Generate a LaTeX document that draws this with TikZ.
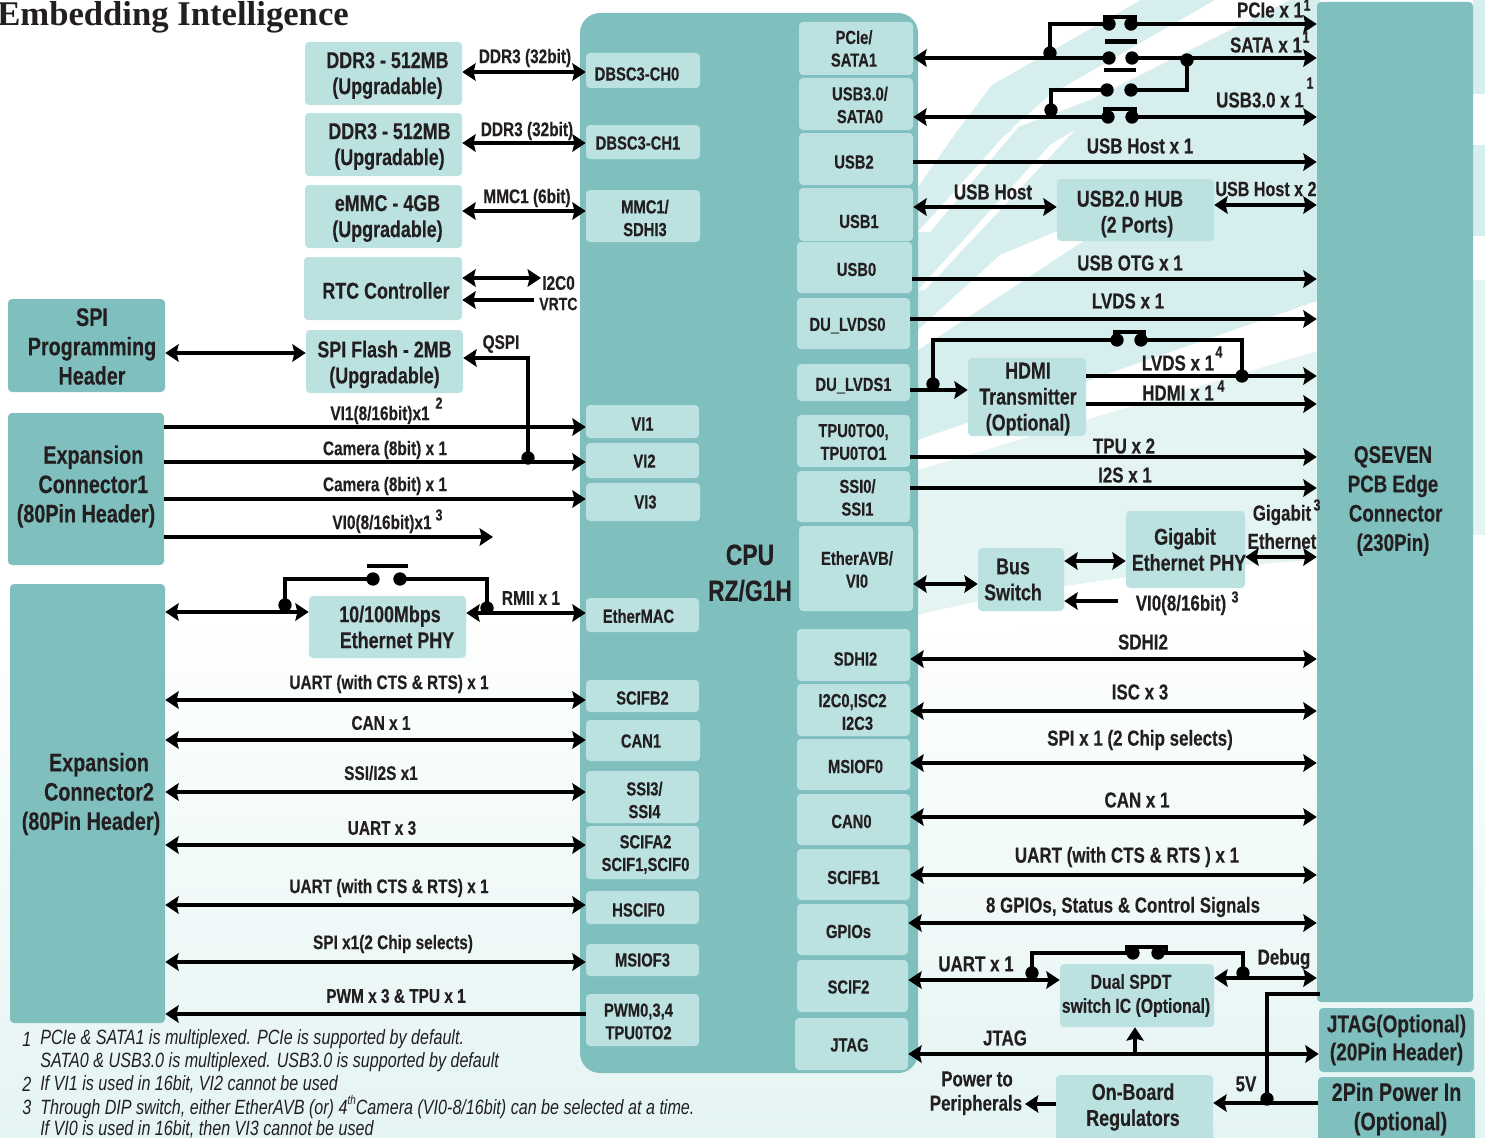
\documentclass[tikz,border=0pt]{standalone}
\usepackage{fontspec}
\setmainfont{Liberation Sans}[FakeStretch=0.78,BoldFeatures={FakeBold=0.25}]
\newfontfamily\titlefont{Liberation Serif}
\usetikzlibrary{arrows.meta,calc}
\definecolor{blk}{HTML}{7FBFBE}
\definecolor{lite}{HTML}{BCE1E1}
\definecolor{ink}{HTML}{231F20}
\definecolor{swa}{HTML}{D6EEED}
\definecolor{swb}{HTML}{E4F4F3}
\newcounter{lc}
\newlength{\wa}\newlength{\ha}
\newcommand{\bx}[8][0,0]{% [dx,dy] style name x1 y1 x2 y2 text
  \pgfmathsetlength{\wa}{(#6-#4)*0.75pt}\pgfmathsetlength{\ha}{(#7-#5)*0.75pt}%
  \node[#2,minimum width=\wa,minimum height=\ha] (#3) at ({(#4+#6)/2},{(#5+#7)/2}) {};
  \node[#2,fill=none] (#3-t) at ($(#3.center)+(#1)$) {#8};}
\newcommand{\lb}[4][sm]{\stepcounter{lc}\node[#1] (lab\arabic{lc}) at (#2,#3) {#4};}
\newcommand{\su}[3]{\stepcounter{lc}\node[sup] (lab\arabic{lc}) at (#1,#2) {#3};}
\tikzset{
  boxbase/.style={rounded corners=3pt,inner sep=0pt,align=center,text=ink},
  block/.style={boxbase,fill=blk,font=\fontsize{19}{22}\selectfont\bfseries},
  lbox/.style={boxbase,fill=lite,font=\fontsize{17.2}{19.5}\selectfont\bfseries},
  port/.style={boxbase,fill=lite,font=\fontsize{14.2}{17}\selectfont\bfseries},
  sm/.style={inner sep=0pt,yshift=-2.25pt,text=ink,font=\fontsize{14.8}{17}\selectfont\bfseries},
  md/.style={inner sep=0pt,text=ink,font=\fontsize{16.3}{19}\selectfont\bfseries},
  sup/.style={inner sep=0pt,text=ink,font=\fontsize{12}{12}\selectfont\bfseries},
  fn/.style={inner sep=0pt,anchor=west,text=ink,font=\fontsize{15.5}{17}\selectfont\itshape},
  wire/.style={draw=black,line width=3.5pt,line join=miter},
  arr/.style={wire,-{Stealth[length=10pt,width=13pt,inset=1.5pt]}},
  barr/.style={wire,{Stealth[length=10pt,width=13pt,inset=1.5pt]}-{Stealth[length=10pt,width=13pt,inset=1.5pt]}},
  larr/.style={wire,{Stealth[length=10pt,width=13pt,inset=1.5pt]}-},
  dot/.style={circle,fill=black,inner sep=0pt,minimum size=10pt},
}
\begin{document}
\begin{tikzpicture}[x=0.75pt,y=-0.75pt]
\useasboundingbox (0,0) rectangle (1485,1138);
% background swathes
\fill[white] (0,0) rectangle (1485,1138);
\shade[top color=white,bottom color=swb] (0,600) rectangle (1485,1138);
\fill[swa] (1141,0) -- (992,85) -- (955,134) -- (918,187) -- (918,470) -- (1320,330) -- (1320,0) -- cycle;
\fill[swb] (918,470) -- (918,620) .. controls (1100,590) and (1220,590) .. (1320,575) -- (1320,330) -- cycle;
% white stripes
\fill[white] (918,232) -- (1005,135) -- (1020,125) -- (930,232) -- cycle;
\fill[white] (918,290) -- (1050,145) -- (1075,130) -- (925,290) -- cycle;
\fill[white] (1215,0) -- (1050,95) -- (1010,130) -- (1090,100) -- (1290,0) -- cycle;
\fill[white] (918,350) -- (1100,230) -- (1180,180) -- (1000,255) -- (918,330) -- cycle;
\fill[white] (918,470) -- (1320,350) -- (1320,300) -- (918,440) -- cycle;
\fill[white] (918,640) .. controls (1100,625) and (1220,615) .. (1320,600) -- (1320,560) .. controls (1150,570) and (1020,590) .. (918,615) -- cycle;
\fill[swa] (1473,0) -- (1485,0) -- (1485,94) -- (1473,94) -- cycle;
\fill[swa] (1473,145) -- (1485,145) -- (1485,236) -- (1473,236) -- cycle;
\fill[swb] (1473,280) -- (1485,280) -- (1485,535) -- (1473,535) -- cycle;
% blocks
\bx{block}{qs}{1317}{2}{1473}{1002}{}
\bx[0,0]{block,font=\fontsize{18.3}{21}\selectfont\bfseries}{jt}{1319}{1008}{1474}{1072}{JTAG(Optional)\\(20Pin Header)}
\bx[0,-2]{block}{pw}{1318}{1077}{1475}{1145}{2Pin Power In\\\hspace*{6pt}(Optional)}
\bx[5.5,1]{block}{spi}{8}{299}{165}{392}{SPI\\Programming\\Header}
\bx[0,-2.5]{block}{ex1}{8}{413}{164}{565}{\hspace*{11pt}Expansion\\\hspace*{11pt}Connector1\\(80Pin Header)}
\bx[3.5,-9.5]{block}{ex2}{10}{584}{165}{1023}{\hspace*{12pt}Expansion\\\hspace*{12pt}Connector2\\(80Pin Header)}
\bx{block,rounded corners=15pt}{cpu}{580}{13}{918}{1073}{}
\lb[block,fill=none,font=\fontsize{22}{26}\selectfont\bfseries]{750}{573}{CPU\\[1pt]RZ/G1H}
\lb[block,fill=none,font=\fontsize{18}{22}\selectfont\bfseries]{1393}{501}{QSEVEN\\PCB Edge\\\hspace*{4pt}Connector\\(230Pin)}
% memory boxes
\bx[4,2]{lbox}{ddra}{305}{42}{462}{105}{DDR3 - 512MB\\(Upgradable)}
\bx[6,2]{lbox}{ddrb}{305}{113}{462}{176}{DDR3 - 512MB\\(Upgradable)}
\bx[4,2]{lbox}{emmc}{305}{185}{462}{248}{eMMC - 4GB\\(Upgradable)}
\bx[3,2]{lbox}{rtc}{304}{257}{462}{320}{RTC Controller}
\bx[0,3]{lbox}{fls}{306}{330}{463}{393}{SPI Flash - 2MB\\(Upgradable)}
\bx[2.5,0]{lbox}{phy}{309}{596}{466}{658}{10/100Mbps\\\hspace*{10.5pt}Ethernet PHY}
\bx[-5.5,4]{lbox}{hub}{1057}{179}{1214}{241}{USB2.0 HUB\\\hspace*{10.5pt}(2 Ports)}
\bx[1,2]{lbox}{hdmi}{968}{358}{1086}{436}{HDMI\\Transmitter\\(Optional)}
\bx[3.5,0]{lbox}{gig}{1126}{511}{1245}{588}{Gigabit\hspace*{6pt}\\Ethernet PHY}
\bx[-8,0]{lbox}{bus}{978}{548}{1064}{611}{Bus\\Switch}
\bx[-1,0]{lbox,font=\fontsize{15.2}{18}\selectfont\bfseries}{spdt}{1060}{964}{1214}{1027}{Dual SPDT\hspace*{7.5pt}\\switch IC (Optional)}
\bx[-1.5,-3]{lbox}{reg}{1056}{1075}{1213}{1145}{On-Board\\Regulators}
% left ports
\bx[-6,3.5]{port}{lpa}{586}{53}{700}{88}{DBSC3-CH0}
\bx[-5,1]{port}{lpb}{586}{125}{700}{159}{DBSC3-CH1}
\bx[2,2]{port}{lpc}{586}{190}{700}{242}{MMC1/\\SDHI3}
\bx[0,2.5]{port}{vi1}{586}{405}{699}{438}{VI1}
\bx[2,0.5]{port}{vi2}{586}{443}{699}{478}{VI2}
\bx[2.5,0]{port}{vi3}{586}{483}{700}{521}{VI3}
\bx[-4,1]{port}{emac}{586}{598}{699}{632}{EtherMAC}
\bx[0,2]{port}{sfb}{586}{680}{699}{712}{SCIFB2}
\bx[-2,0.5]{port}{canl}{586}{720}{700}{761}{CAN1}
\bx[2,3]{port}{ssi}{586}{771}{699}{823}{SSI3/\\SSI4}
\bx[3,2]{port}{sfa}{586}{826}{699}{879}{SCIFA2\\SCIF1,SCIF0}
\bx[-4,2.5]{port}{hsc}{586}{891}{699}{924}{HSCIF0}
\bx[0,0]{port}{msl}{586}{944}{699}{976}{MSIOF3}
\bx[-4,1.5]{port}{pwm}{586}{994}{699}{1046}{PWM0,3,4\\TPU0TO2}
% right ports
\bx[-2,0]{port}{ra}{799}{22}{913}{75}{PCIe/\\SATA1}
\bx[4,1]{port}{rb}{799}{78}{913}{130}{USB3.0/\\SATA0}
\bx[-2,3]{port}{rc}{799}{133}{913}{185}{USB2}
\bx[3,7]{port}{rd}{799}{188}{913}{241}{USB1}
\bx[2,2]{port}{re}{797}{242}{912}{293}{USB0}
\bx[-6,2]{port}{rf}{797}{298}{910}{349}{DU\_LVDS0}
\bx[0,3]{port}{rg}{797}{364}{910}{401}{DU\_LVDS1}
\bx[0,1]{port}{rh}{797}{415}{910}{467}{TPU0TO0,\\TPU0TO1}
\bx[4,1]{port}{ri}{797}{471}{910}{522}{SSI0/\\SSI1}
\bx[1,1]{port}{rj}{799}{526}{913}{611}{EtherAVB/\\VI0}
\bx[2,4]{port}{rk}{797}{629}{910}{681}{SDHI2}
\bx[-1,2]{port}{rl}{797}{684}{910}{736}{I2C0,ISC2\\\hspace*{7.5pt}I2C3}
\bx[2,2]{port}{rm}{797}{739}{910}{790}{MSIOF0}
\bx[-2,2]{port}{rn}{797}{794}{910}{845}{CAN0}
\bx[0,3]{port}{ro}{797}{849}{910}{900}{SCIFB1}
\bx[-4,2]{port}{rp}{797}{904}{908}{955}{GPIOs}
\bx[-4,1]{port}{rq}{797}{960}{908}{1012}{SCIF2}
\bx[-2,1]{port}{rr}{795}{1018}{908}{1070}{JTAG}
% labels left
\node[font=\fontsize{26}{30}\selectfont\bfseries\titlefont,inner sep=0pt,anchor=west,text=ink] (title) at (-3,17) {Embedding Intelligence};
\lb{525}{55}{DDR3 (32bit)}
\lb{527}{128}{DDR3 (32bit)}
\lb{527}{195}{MMC1 (6bit)}
\lb[sm,anchor=west]{542}{280}{I2C0}
\lb[sm,anchor=west,font=\fontsize{13.5}{16}\selectfont\bfseries]{539}{301}{VRTC}
\lb{501}{341}{QSPI}
\lb{380}{412}{VI1(8/16bit)x1}\su{439}{403}{2}
\lb{385}{447}{Camera (8bit) x 1}
\lb{385}{483}{Camera (8bit) x 1}
\lb{382}{521}{VI0(8/16bit)x1}\su{439}{515}{3}
\lb{531}{595}{RMII x 1}
\lb{389}{681}{UART (with CTS \& RTS) x 1}
\lb{381}{720}{CAN x 1}
\lb{381}{770}{SSI/I2S x1}
\lb{382}{825}{UART x 3}
\lb{389}{885}{UART (with CTS \& RTS) x 1}
\lb{393}{941}{SPI x1(2 Chip selects)}
\lb{396}{993}{PWM x 3 \& TPU x 1}
% labels right
\lb[md]{1270}{10}{PCIe x 1}\su{1307}{5}{1}
\lb[md]{1266}{45}{SATA x 1}\su{1306}{37}{1}
\lb[md]{1260}{100}{USB3.0 x 1}\su{1310}{83}{1}
\lb[md]{1140}{146}{USB Host x 1}
\lb[md]{993}{192}{USB Host}
\lb[md,font=\fontsize{15.5}{19}\selectfont\bfseries]{1266}{189}{USB Host x 2}
\lb[md]{1130}{263}{USB OTG x 1}
\lb[md]{1128}{301}{LVDS x 1}
\lb[md]{1178}{363}{LVDS x 1}\su{1219}{352}{4}
\lb[md]{1178}{393}{HDMI x 1}\su{1221}{386}{4}
\lb[md]{1124}{446}{TPU x 2}
\lb[md]{1125}{475}{I2S x 1}
\lb[md]{1282}{515}{Gigabit}\su{1317}{505}{3}
\lb[md]{1282}{541}{Ethernet}
\lb[md]{1181}{605}{VI0(8/16bit)}\su{1235}{597}{3}
\lb[md]{1143}{642}{SDHI2}
\lb[md]{1140}{692}{ISC x 3}
\lb[md]{1140}{740}{SPI x 1 (2 Chip selects)}
\lb[md]{1137}{800}{CAN x 1}
\lb[md]{1127}{857}{UART (with CTS \& RTS ) x 1}
\lb[md]{1123}{907}{8 GPIOs, Status \& Control Signals}
\lb[md]{976}{964}{UART x 1}
\lb[md]{1284}{959}{Debug}
\lb[md]{1005}{1038}{JTAG}
\lb[md]{977}{1079}{Power to}
\lb[md]{976}{1105}{Peripherals}
\lb[md]{1246}{1084}{5V}
% footnotes
\lb[fn]{22}{1039}{1}\lb[fn]{40}{1039}{PCIe \& SATA1 is multiplexed. PCIe is supported by default.}
\lb[fn]{40}{1062}{SATA0 \& USB3.0 is multiplexed. USB3.0 is supported by default}
\lb[fn]{22}{1084}{2}\lb[fn]{40}{1084}{If VI1 is used in 16bit, VI2 cannot be used}
\lb[fn]{22}{1107}{3}\lb[fn]{40}{1107}{Through DIP switch, either EtherAVB (or) 4\raisebox{0.45em}{\fontsize{9.5}{9.5}\selectfont th}Camera (VI0-8/16bit) can be selected at a time.}
\lb[fn]{40}{1129}{If VI0 is used in 16bit, then VI3 cannot be used}
% free-end coordinates
\coordinate (i2cEnd) at (541,278);
\coordinate (vrtcEnd) at (534,300);
\coordinate (vi0End) at (493,537);
\coordinate (vi0sw) at (1118,601);
\coordinate (fiveTap) at (1320,994);
\coordinate (perEnd) at (1025,1104);
% dots
\foreach \n/\x/\y in {sa/1109/24,sb/1131/24,sc/1109/58,sd/1132/58,se/1107/90,sf/1131/90,sg/1108/117,sh/1132/117,
  ja/1050/53,jb/1187/60,jc/1051/110,ha/933/384,hb/1117/340,hc/1141/340,hd/1242/376,
  qa/528/458,ea/285/605,eb/373/579,ec/400/579,ed/487/608,
  ua/1032/973,ub/1133/953,uc/1158/953,ud/1243/973,pa/1267/1099}
  {\node[dot] (\n) at (\x,\y) {};}
% left connectors
\draw[barr] (ddra.east|-0,72) -- (lpa.west|-0,72);
\draw[barr] (ddrb.east|-0,143) -- (lpb.west|-0,143);
\draw[barr] (emmc.east|-0,211) -- (lpc.west|-0,211);
\draw[barr] (rtc.east|-0,278) -- (i2cEnd);
\draw[larr] (rtc.east|-0,300) -- (vrtcEnd);
\draw[barr] (spi.east|-0,353) -- (fls.west|-0,353);
\draw[arr] (qa.center) |- (fls.east|-0,358);
\draw[arr] (ex1.east|-0,427) -- (vi1.west|-0,427);
\draw[arr] (ex1.east|-0,462) -- (vi2.west|-0,462);
\draw[arr] (ex1.east|-0,499) -- (vi3.west|-0,499);
\draw[arr] (ex1.east|-0,537) -- (vi0End);
\draw[barr] (ex2.east|-0,612) -- (phy.west|-0,612);
\draw[barr] (phy.east|-0,613) -- (emac.west|-0,613);
\draw[wire] (ea.center) |- (eb.center);
\draw[wire] (ec.center) -| (ed.center);
\draw[wire] (367,566) -- (408,566);
\draw[barr] (ex2.east|-0,700) -- (sfb.west|-0,700);
\draw[barr] (ex2.east|-0,740) -- (canl.west|-0,740);
\draw[barr] (ex2.east|-0,792) -- (ssi.west|-0,792);
\draw[barr] (ex2.east|-0,845) -- (sfa.west|-0,845);
\draw[barr] (ex2.east|-0,905) -- (hsc.west|-0,905);
\draw[barr] (ex2.east|-0,962) -- (msl.west|-0,962);
\draw[larr] (ex2.east|-0,1014) -- (pwm.west|-0,1014);
% right switch matrix
\draw[arr] (sb.center) -- (qs.west|-sb);
\draw[wire] (sa.center) -| (ja.center);
\draw[wire] (1105,24) -- (1105,17) -- (1135,17) -- (1135,24);
\draw[larr] (ra.east|-sc) -- (sc.center);
\draw[arr] (sd.center) -- (qs.west|-sd);
\draw[wire] (1105,41.5) -- (1137,41.5);
\draw[wire] (1104,70) -- (1136,70);
\draw[wire] (jb.center) |- (sf.center);
\draw[wire] (se.center) -| (jc.center);
\draw[larr] (rb.east|-sg) -- (sg.center);
\draw[arr] (sh.center) -- (qs.west|-sh);
\draw[wire] (1105,117) -- (1105,109) -- (1135,109) -- (1135,117);
% right connectors
\draw[arr] (rc.east|-0,162) -- (qs.west|-0,162);
\draw[barr] (rd.east|-0,207) -- (hub.west|-0,207);
\draw[barr] (hub.east|-0,205) -- (qs.west|-0,205);
\draw[arr] (re.east|-0,279) -- (qs.west|-0,279);
\draw[arr] (rf.east|-0,319) -- (qs.west|-0,319);
\draw[arr] (rg.east|-0,390) -- (hdmi.west|-0,390);
\draw[wire] (ha.center) |- (hb.center);
\draw[wire] (hc.center) -| (hd.center);
\draw[wire] (1115,340) -- (1115,332) -- (1144,332) -- (1144,340);
\draw[arr] (hdmi.east|-0,376) -- (qs.west|-0,376);
\draw[arr] (hdmi.east|-0,404) -- (qs.west|-0,404);
\draw[arr] (rh.east|-0,457) -- (qs.west|-0,457);
\draw[arr] (ri.east|-0,488) -- (qs.west|-0,488);
\draw[barr] (rj.east|-0,584) -- (bus.west|-0,584);
\draw[barr] (bus.east|-0,561) -- (gig.west|-0,561);
\draw[larr] (bus.east|-0,601) -- (vi0sw);
\draw[barr] (gig.east|-0,557) -- (qs.west|-0,557);
\draw[barr] (rk.east|-0,659) -- (qs.west|-0,659);
\draw[barr] (rl.east|-0,711) -- (qs.west|-0,711);
\draw[barr] (rm.east|-0,763) -- (qs.west|-0,763);
\draw[barr] (rn.east|-0,817) -- (qs.west|-0,817);
\draw[barr] (ro.east|-0,875) -- (qs.west|-0,875);
\draw[barr] (rp.east|-0,923) -- (qs.west|-0,923);
\draw[barr] (rq.east|-0,980) -- (spdt.west|-0,980);
\draw[wire] (ua.center) |- (ub.center);
\draw[wire] (uc.center) -| (ud.center);
\draw[wire] (1127,953) -- (1127,947) -- (1166,947) -- (1166,953);
\draw[barr] (spdt.east|-0,978) -- (qs.west|-0,978);
\draw[barr] (rr.east|-0,1054) -- (jt.west|-0,1054);
\draw[arr] (1135,1052) -- (spdt.south-|1135,0);
\draw[wire] (fiveTap) -| (pa.center);
\draw[arr] (pw.west|-0,1103) -- (reg.east|-0,1103);
\draw[arr] (reg.west|-0,1104) -- (perEnd);
\end{tikzpicture}
\end{document}
